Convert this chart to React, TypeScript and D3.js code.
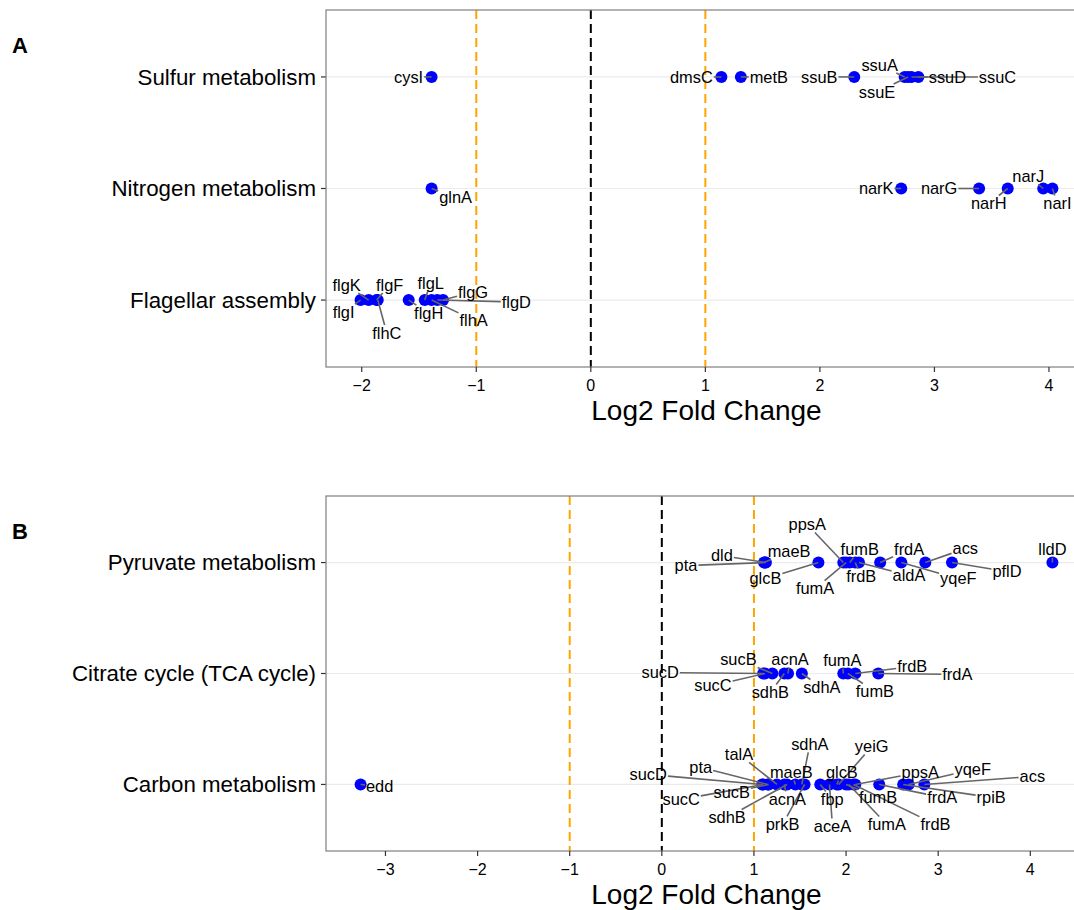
import React from "react";
import * as d3 from "d3";

const W = 1074;
const H = 910;
const FONT = "'Liberation Sans', Arial, Helvetica, sans-serif";

// ---- panel A ----
const flagellarGenes = ["flgI", "flgK", "flgF", "flhC", "flgH", "flgL", "flhA", "flgD", "flgG"];
const flagellarLfc = [-2.01, -1.94, -1.87, -1.86, -1.59, -1.45, -1.39, -1.34, -1.29];
const nitrogenGenes = ["glnA", "narK", "narG", "narH", "narJ", "narI"];
const nitrogenLfc = [-1.39, 2.71, 3.39, 3.64, 3.95, 4.03];
const sulfurGenes = ["cysI", "dmsC", "metB", "ssuB", "ssuA", "ssuE", "ssuD", "ssuC"];
const sulfurLfc = [-1.39, 1.14, 1.31, 2.3, 2.74, 2.77, 2.86, 2.8];

// ---- panel B ----
const carbonGenes = ["edd", "sucD", "sucC", "pta", "sucB", "talA", "acnA", "sdhB", "maeB", "sdhA", "prkB", "fbp", "aceA", "glcB", "yeiG", "fumB", "fumA", "frdB", "ppsA", "frdA", "rpiB", "yqeF", "acs"];
const carbonLfc = [-3.27, 1.09, 1.1, 1.15, 1.16, 1.25, 1.33, 1.36, 1.45, 1.52, 1.55, 1.72, 1.82, 1.9, 1.92, 2.0, 2.03, 2.08, 2.1, 2.36, 2.62, 2.68, 2.85];
const tcaGenes = ["sucD", "sucC", "sucB", "sdhB", "acnA", "sdhA", "fumA", "fumB", "frdB", "frdA"];
const tcaLfc = [1.1, 1.12, 1.2, 1.33, 1.37, 1.52, 1.97, 2.02, 2.1, 2.35];
const pyruvateGenes = ["pta", "dld", "maeB", "glcB", "ppsA", "fumA", "fumB", "frdB", "aldA", "frdA", "yqeF", "acs", "pflD", "lldD"];
const pyruvateLfc = [1.12, 1.13, 1.11, 1.7, 1.97, 2.0, 2.04, 2.1, 2.14, 2.37, 2.6, 2.86, 3.15, 4.24];

// label placement (px offsets from each point, like ggrepel output)
const flagellarNudge = [[-17, 12], [-22, -15], [13, -15], [9, 33], [20, 13], [6, -17], [42, 20], [79, 2], [30, -8]];
const nitrogenNudge = [[24, 9], [-25, 0], [-40, 0], [-19, 15], [-15, -12], [5, 15]];
const sulfurNudge = [[-23, 0], [-30, 0], [28, 0], [-35, 0], [-25, -12], [-31, 15], [29, 0], [86, 0]];
const carbonNudge = [[19, 2], [-114, -10], [-82, 15], [-67, -17], [-37, 8], [-38, -30], [3, 15], [-60, 33], [-4, -12], [8, -40], [-22, 40], [12, 15], [3, 42], [5, -12], [33, -38], [32, 13], [38, 40], [82, 40], [65, -12], [63, 13], [88, 13], [64, -15], [108, -8]];
const tcaNudge = [[-103, -1], [-52, 12], [-34, -14], [-14, 19], [2, -14], [20, 14], [-1, -13], [27, 18], [57, -7], [79, 1]];
const pyruvateNudge = [[-79, 3], [-44, -7], [25, -11], [-53, 16], [-36, -38], [-31, 26], [10, -13], [6, 14], [50, 13], [29, -13], [57, 16], [40, -14], [55, 9], [0, -13]];

interface Row {
  pathway: string;
  genes: string[];
  lfc: number[];
  nudge: number[][];
}

const panelA: Row[] = [
  { pathway: "Flagellar assembly", genes: flagellarGenes, lfc: flagellarLfc, nudge: flagellarNudge },
  { pathway: "Nitrogen metabolism", genes: nitrogenGenes, lfc: nitrogenLfc, nudge: nitrogenNudge },
  { pathway: "Sulfur metabolism", genes: sulfurGenes, lfc: sulfurLfc, nudge: sulfurNudge },
];
const panelB: Row[] = [
  { pathway: "Carbon metabolism", genes: carbonGenes, lfc: carbonLfc, nudge: carbonNudge },
  { pathway: "Citrate cycle (TCA cycle)", genes: tcaGenes, lfc: tcaLfc, nudge: tcaNudge },
  { pathway: "Pyruvate metabolism", genes: pyruvateGenes, lfc: pyruvateLfc, nudge: pyruvateNudge },
];

let ctx: CanvasRenderingContext2D | null = null;
function textWidth(s: string, size: number) {
  if (!ctx) ctx = document.createElement("canvas").getContext("2d");
  if (!ctx) return s.length * size * 0.5;
  ctx.font = `${size}px ${FONT}`;
  return ctx.measureText(s).width;
}

const LEFT = 326;
const RIGHT = 1087;
const GENE_SIZE = 16.4;

function Panel({ rows, top, bottom, letter }: { rows: Row[]; top: number; bottom: number; letter: string }) {
  const all = rows.flatMap((r) => r.lfc);
  const [lo, hi] = d3.extent(all) as [number, number];
  const pad = (hi - lo) * 0.05;
  const x = d3.scaleLinear().domain([lo - pad, hi + pad]).range([LEFT, RIGHT]);
  const y = d3.scaleLinear().domain([0.4, rows.length + 0.6]).range([bottom, top]);
  const ticks = d3.range(Math.ceil(lo - pad), Math.floor(hi + pad) + 1);
  const fmt = (v: number) => (v < 0 ? "\u2212" + Math.abs(v) : String(v));

  const labels = rows.flatMap((r, i) =>
    r.genes.map((g, j) => {
      const px = x(r.lfc[j]);
      const py = y(i + 1);
      const cx = px + r.nudge[j][0];
      const cy = py + r.nudge[j][1];
      const hw = textWidth(g, GENE_SIZE) / 2 + 1;
      const hh = 8;
      const dx = px - cx;
      const dy = py - cy;
      let seg: number[] | null = null;
      if (Math.abs(dx) > hw || Math.abs(dy) > hh) {
        const t = Math.min(dx === 0 ? Infinity : hw / Math.abs(dx), dy === 0 ? Infinity : hh / Math.abs(dy));
        seg = [px, py, cx + dx * t, cy + dy * t];
      }
      return { key: `${r.pathway}-${g}`, g, px, py, cx, cy, seg };
    })
  );

  return (
    <g>
      <text x={12} y={top + 43} fontSize={22} fontWeight="bold" fontFamily={FONT}>
        {letter}
      </text>
      {rows.map((r, i) => (
        <g key={r.pathway}>
          <line x1={LEFT} x2={RIGHT} y1={y(i + 1)} y2={y(i + 1)} stroke="#ebebeb" strokeWidth={1.2} />
          <line x1={LEFT - 5} x2={LEFT} y1={y(i + 1)} y2={y(i + 1)} stroke="#333" strokeWidth={1.2} />
          <text x={LEFT - 10} y={y(i + 1)} dy="0.35em" textAnchor="end" fontSize={22.3} fontFamily={FONT}>
            {r.pathway}
          </text>
        </g>
      ))}
      {[-1, 1].map((v) => (
        <line key={v} x1={x(v)} x2={x(v)} y1={top} y2={bottom} stroke="orange" strokeWidth={2} strokeDasharray="9,5" />
      ))}
      <line x1={x(0)} x2={x(0)} y1={top} y2={bottom} stroke="black" strokeWidth={2} strokeDasharray="9,5" />
      {labels.map((l) => (
        <circle key={l.key} cx={l.px} cy={l.py} r={6} fill="blue" />
      ))}
      {labels.map((l) =>
        l.seg ? (
          <line key={l.key} x1={l.seg[0]} y1={l.seg[1]} x2={l.seg[2]} y2={l.seg[3]} stroke="#666" strokeWidth={1.6} />
        ) : null
      )}
      {labels.map((l) => (
        <text key={l.key} x={l.cx} y={l.cy} dy="0.35em" textAnchor="middle" fontSize={GENE_SIZE} fontFamily={FONT}>
          {l.g}
        </text>
      ))}
      <rect x={LEFT} y={top} width={RIGHT - LEFT} height={bottom - top} fill="none" stroke="#7f7f7f" strokeWidth={1.2} />
      {ticks.map((t) => (
        <g key={t}>
          <line x1={x(t)} x2={x(t)} y1={bottom} y2={bottom + 5} stroke="#333" strokeWidth={1.2} />
          <text x={x(t)} y={bottom + 18} dy="0.35em" textAnchor="middle" fontSize={16} fontFamily={FONT}>
            {fmt(t)}
          </text>
        </g>
      ))}
      <text x={(LEFT + RIGHT) / 2} y={bottom + 53} textAnchor="middle" fontSize={28} fontFamily={FONT}>
        Log2 Fold Change
      </text>
    </g>
  );
}

export default function App() {
  return (
    <div style={{ position: "absolute", left: 0, top: 0 }}>
      <svg width={W} height={H} style={{ display: "block", background: "white" }}>
        <Panel rows={panelA} top={10} bottom={367} letter="A" />
        <Panel rows={panelB} top={496} bottom={851} letter="B" />
      </svg>
    </div>
  );
}
